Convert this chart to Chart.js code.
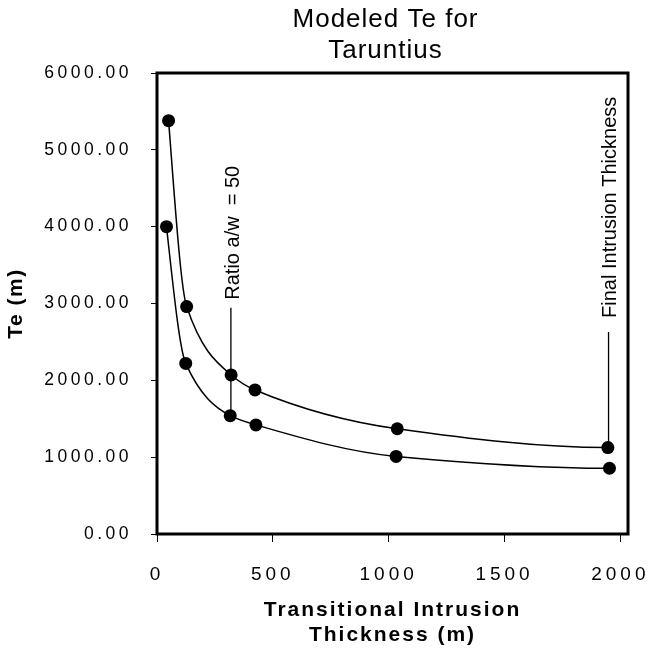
<!DOCTYPE html>
<html>
<head>
<meta charset="utf-8">
<script src="https://cdn.jsdelivr.net/npm/chart.js@4/dist/chart.umd.min.js"></script>
<style>
html,body{margin:0;padding:0;background:#fff;}
#wrap{width:663px;height:650px;}
</style>
</head>
<body>
<div id="wrap"><canvas id="c" width="663" height="650"></canvas></div>
<script>
// ---- data ----
const titleLines = ['Modeled Te for', 'Taruntius'];
const xAxisTitle = ['Transitional Intrusion', 'Thickness (m)'];
const yAxisTitle = 'Te (m)';
const xTicks = [0, 500, 1000, 1500, 2000];
const yTicks = [0, 1000, 2000, 3000, 4000, 5000, 6000];

const upperX = [50, 128, 320, 423, 1037, 1946];
const upperY = [5380, 2960, 2070, 1875, 1370, 1125];
const lowerX = [41, 124, 316, 427, 1032, 1953];
const lowerY = [4000, 2220, 1540, 1420, 1010, 856];

const ratioLineX = [319, 319];
const ratioLineY = [2945, 1541];
const finalLineX = [1949, 1949];
const finalLineY = [2630, 1125];
const annotationText = ['Ratio a/w  = 50', 'Final Intrusion Thickness'];

// ---- styling ----
const FONT = "'Liberation Sans', Arial, Helvetica, sans-serif";
const setLS = (ctx, v) => { if ('letterSpacing' in ctx) ctx.letterSpacing = v; };
const pts = (xs, ys) => xs.map((x, i) => ({ x: x, y: ys[i] }));

const spacingPlugin = {
  id: 'spacing',
  afterLayout(chart) {
    const cfg = { x: ['4px', '2px'], y: ['3.5px', '1.5px'] };
    Object.keys(cfg).forEach(id => {
      const s = chart.scales[id];
      if (!s || s.__ls) return;
      s.__ls = true;
      const dl = s.drawLabels, dt = s.drawTitle;
      s.drawLabels = function (a) { const c = this.ctx; c.save(); setLS(c, cfg[id][0]); dl.call(this, a); c.restore(); };
      s.drawTitle = function (a) { const c = this.ctx; c.save(); setLS(c, cfg[id][1]); dt.call(this, a); c.restore(); };
    });
  }
};

// shape-preserving (PCHIP) control points computed from the scaled point positions
const pchipPlugin = {
  id: 'pchip',
  beforeDatasetsDraw(chart) {
    chart.data.datasets.forEach((ds, i) => {
      if (!ds.pchip) return;
      const meta = chart.getDatasetMeta(i);
      const p = meta.data, n = p.length;
      if (n < 3) return;
      const h = [], d = [];
      for (let k = 0; k < n - 1; k++) { h[k] = p[k + 1].x - p[k].x; d[k] = (p[k + 1].y - p[k].y) / h[k]; }
      const m = new Array(n);
      for (let k = 1; k < n - 1; k++) {
        if (d[k - 1] * d[k] <= 0) m[k] = 0;
        else {
          const w1 = 2 * h[k] + h[k - 1], w2 = h[k] + 2 * h[k - 1];
          m[k] = (w1 + w2) / (w1 / d[k - 1] + w2 / d[k]);
        }
      }
      const endSlope = (h0, h1, d0, d1) => {
        let s = ((2 * h0 + h1) * d0 - h0 * d1) / (h0 + h1);
        if (Math.sign(s) !== Math.sign(d0)) s = 0;
        else if (Math.sign(d0) !== Math.sign(d1) && Math.abs(s) > Math.abs(3 * d0)) s = 3 * d0;
        return s;
      };
      m[0] = endSlope(h[0], h[1], d[0], d[1]);
      m[n - 1] = endSlope(h[n - 2], h[n - 3], d[n - 2], d[n - 3]);
      for (let k = 0; k < n; k++) {
        const pt = p[k];
        if (k > 0) { const dx = h[k - 1] / 3; pt.cp1x = pt.x - dx; pt.cp1y = pt.y - dx * m[k]; }
        else { pt.cp1x = pt.x; pt.cp1y = pt.y; }
        if (k < n - 1) { const dx = h[k] / 3; pt.cp2x = pt.x + dx; pt.cp2y = pt.y + dx * m[k]; }
        else { pt.cp2x = pt.x; pt.cp2y = pt.y; }
      }
      meta.dataset._pointsUpdated = true;
    });
  }
};

const framePlugin = {
  id: 'frame',
  beforeDatasetsDraw(chart) {
    const { ctx, chartArea: a } = chart;
    ctx.save();
    ctx.lineWidth = 3;
    ctx.strokeStyle = '#000';
    ctx.strokeRect(a.left, a.top, a.right - a.left, a.bottom - a.top);
    ctx.restore();
  }
};

const annotationPlugin = {
  id: 'annot',
  afterDatasetsDraw(chart) {
    const { ctx, scales: { x, y } } = chart;
    const items = [
      { text: annotationText[0], lx: ratioLineX[0], ly: ratioLineY[0], gap: 8, dx: 3 },
      { text: annotationText[1], lx: finalLineX[0], ly: finalLineY[0], gap: 14, dx: 2 }
    ];
    ctx.save();
    ctx.fillStyle = '#000';
    ctx.font = '20px ' + FONT;
    ctx.textAlign = 'left';
    ctx.textBaseline = 'middle';
    items.forEach(it => {
      const px = x.getPixelForValue(it.lx) + it.dx;
      const py = y.getPixelForValue(it.ly) - it.gap;
      ctx.save();
      ctx.translate(px, py);
      ctx.rotate(-Math.PI / 2);
      ctx.fillText(it.text, 0, 0);
      ctx.restore();
    });
    ctx.restore();
  }
};

const titlePlugin = {
  id: 'topTitle',
  afterDraw(chart) {
    const { ctx, chartArea: a } = chart;
    ctx.save();
    ctx.fillStyle = '#000';
    ctx.font = '26px ' + FONT;
    setLS(ctx, '1px');
    ctx.textAlign = 'center';
    ctx.textBaseline = 'alphabetic';
    const cx = (a.left + a.right) / 2 - 7;
    ctx.fillText(titleLines[0], cx, 27);
    ctx.fillText(titleLines[1], cx, 58);
    ctx.restore();
  }
};

const seriesStyle = {
  borderColor: '#000', borderWidth: 1.5, fill: false, pchip: true,
  pointRadius: 6.5, pointHoverRadius: 6.5, pointBackgroundColor: '#000', pointBorderWidth: 0,
  cubicInterpolationMode: 'monotone'
};
const guideStyle = {
  borderColor: '#000', borderWidth: 1.3, fill: false, pointRadius: 0, pointHoverRadius: 0, tension: 0
};

new Chart(document.getElementById('c'), {
  type: 'line',
  data: {
    datasets: [
      Object.assign({ label: 'Upper', data: pts(upperX, upperY) }, seriesStyle),
      Object.assign({ label: 'Lower', data: pts(lowerX, lowerY) }, seriesStyle),
      Object.assign({ label: 'Ratio', data: pts(ratioLineX, ratioLineY) }, guideStyle),
      Object.assign({ label: 'Final', data: pts(finalLineX, finalLineY) }, guideStyle)
    ]
  },
  options: {
    responsive: false,
    animation: false,
    devicePixelRatio: 1,
    layout: { padding: { top: 73, right: 31, bottom: 0, left: 0 } },
    plugins: { legend: { display: false }, tooltip: { enabled: false }, title: { display: false } },
    scales: {
      x: {
        type: 'linear', min: 0, max: 2033,
        afterBuildTicks: s => { s.ticks = xTicks.map(v => ({ value: v })); },
        ticks: { color: '#000', font: { family: FONT, size: 19 }, padding: 21, maxRotation: 0, autoSkip: false,
                 callback: v => String(v) },
        grid: { display: true, drawOnChartArea: false, drawTicks: true, tickLength: 8, color: '#000', lineWidth: 1 },
        border: { display: false },
        title: { display: true, text: xAxisTitle, color: '#000', font: { family: FONT, size: 21, weight: 'bold' },
                 padding: { top: 0, bottom: 2 } },
        afterFit: s => { s.height = 116; }
      },
      y: {
        type: 'linear', min: 0, max: 6000,
        afterBuildTicks: s => { s.ticks = yTicks.map(v => ({ value: v })); },
        ticks: { color: '#000', font: { family: FONT, size: 17.5 }, padding: 19, autoSkip: false,
                 callback: v => Number(v).toFixed(2) },
        grid: { display: true, drawOnChartArea: false, drawTicks: true, tickLength: 6, color: '#000', lineWidth: 1 },
        border: { display: false },
        title: { display: true, text: yAxisTitle, color: '#000', font: { family: FONT, size: 21, weight: 'bold' },
                 padding: { top: 4, bottom: 0 } },
        afterFit: s => { s.width = 157; }
      }
    }
  },
  plugins: [spacingPlugin, pchipPlugin, framePlugin, annotationPlugin, titlePlugin]
});
</script>
</body>
</html>
